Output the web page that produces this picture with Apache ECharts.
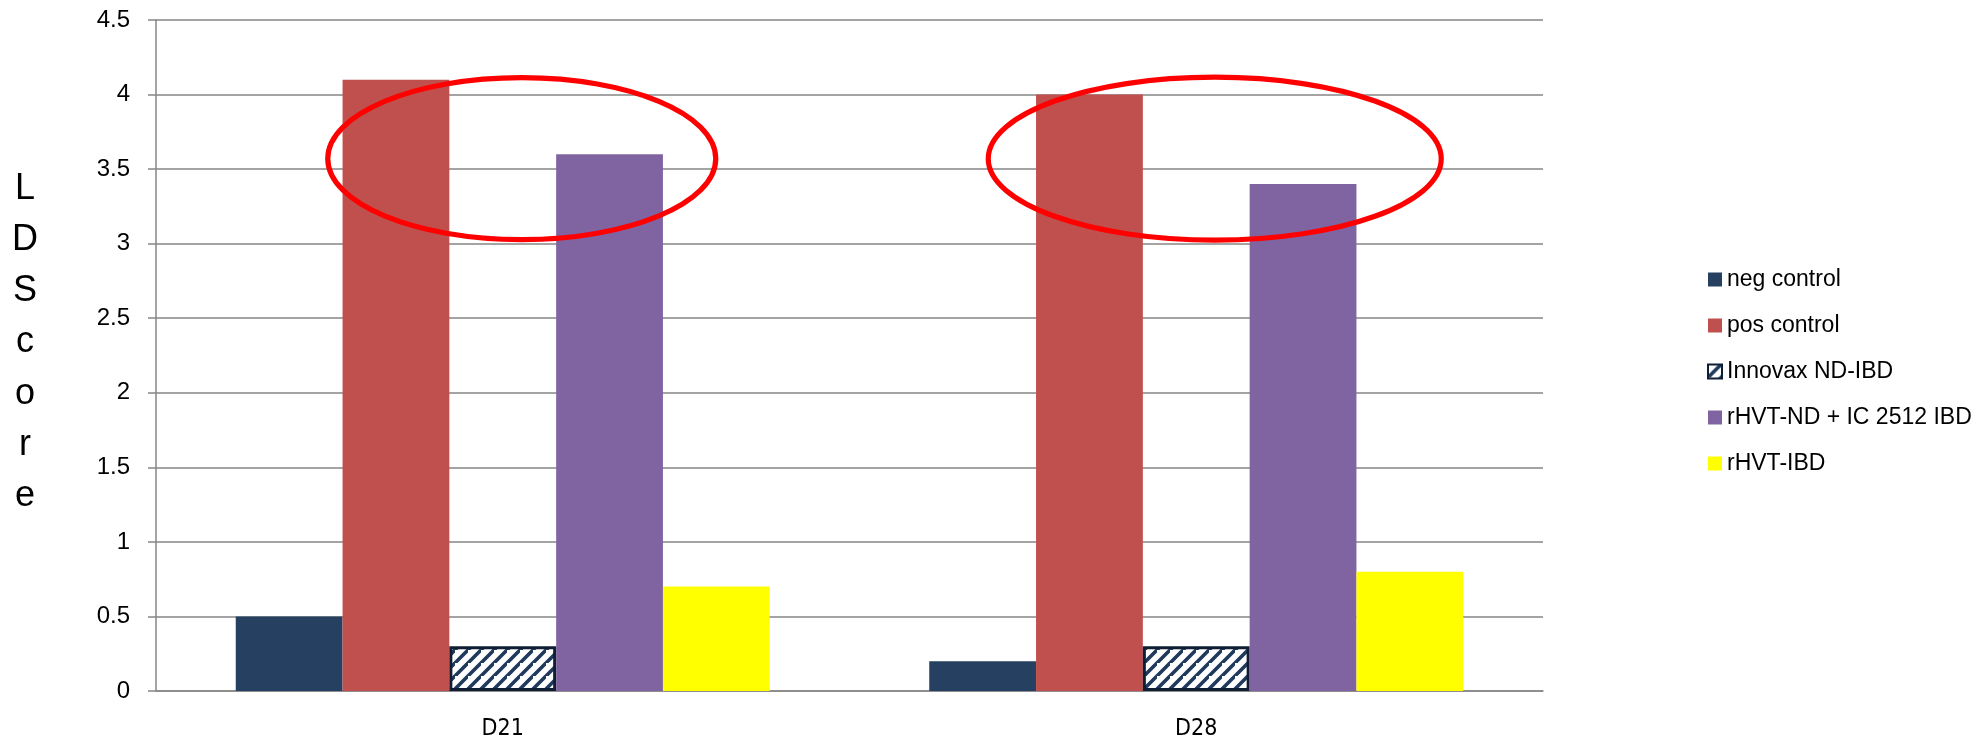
<!DOCTYPE html>
<html><head><meta charset="utf-8">
<script src="https://cdn.jsdelivr.net/npm/echarts@6/dist/echarts.min.js"></script>
<style>html,body{margin:0;padding:0;background:#fff}#c{width:1980px;height:738px}</style>
</head><body><div id="c"></div>
<script>
const categories = ['D21', 'D28'];
const seriesNames = ['neg control', 'pos control', 'Innovax ND-IBD', 'rHVT-ND + IC 2512 IBD', 'rHVT-IBD'];
const negControl = [0.5, 0.2];
const posControl = [4.1, 4.0];
const innovax = [0.3, 0.3];
const rhvtNdIc = [3.6, 3.4];
const rhvtIbd = [0.7, 0.8];
const yAxisTitle = 'LDScore';

// stripe pattern for the hatched series
const P = 13;
const pc = document.createElement('canvas');
pc.width = P; pc.height = P;
const g = pc.getContext('2d');
g.fillStyle = '#ffffff'; g.fillRect(0, 0, P, P);
g.strokeStyle = '#1F3A5C'; g.lineWidth = 3.6;
g.beginPath();
g.moveTo(-3, P + 3); g.lineTo(P + 3, -3);
g.moveTo(-P - 3, 3); g.lineTo(3, -P - 3);
g.moveTo(-3, 2 * P + 3); g.lineTo(2 * P + 3, -3);
g.stroke();

const chart = echarts.init(document.getElementById('c'), null, {renderer: 'canvas'});
const gridColor = '#868686';
const font = '"Liberation Sans", Arial, sans-serif';

function bar(name, data, itemStyle) {
  return {
    name: name, type: 'bar', data: data,
    barGap: '0%', barCategoryGap: '23%',
    itemStyle: itemStyle,
    emphasis: {disabled: true},
    animation: false
  };
}

chart.setOption({
  animation: false,
  grid: {left: 156, right: 437, top: 20, bottom: 47, containLabel: false, outerBoundsMode: 'none'},
  legend: {
    orient: 'vertical', left: 1707, top: 268, padding: 0,
    itemWidth: 14, itemHeight: 14, itemGap: 23, icon: 'rect',
    selectedMode: false,
    textStyle: {fontFamily: font, fontSize: 23, lineHeight: 23, color: '#000'},
    data: seriesNames
  },
  xAxis: {
    type: 'category', data: categories,
    axisLine: {lineStyle: {color: gridColor, width: 1.5}},
    axisTick: {length: 8, lineStyle: {color: gridColor, width: 1.5}},
    axisLabel: {margin: 27, fontFamily: '"DejaVu Sans Condensed", "Liberation Sans Narrow", sans-serif', fontSize: 23, color: '#000'}
  },
  yAxis: {
    type: 'value', min: 0, max: 4.5, interval: 0.5,
    axisLine: {show: true, lineStyle: {color: gridColor, width: 1.5}},
    axisTick: {show: true, length: 8, lineStyle: {color: gridColor, width: 1.5}},
    axisLabel: {margin: 26, fontFamily: font, fontSize: 24, color: '#000'},
    splitLine: {lineStyle: {color: gridColor, width: 1.5}}
  },
  series: [
    bar(seriesNames[0], negControl, {color: '#254061'}),
    bar(seriesNames[1], posControl, {color: '#C0504D'}),
    bar(seriesNames[2], innovax, {color: {image: pc, repeat: 'repeat'}, borderColor: '#0F1E33', borderWidth: 3}),
    bar(seriesNames[3], rhvtNdIc, {color: '#8064A2'}),
    bar(seriesNames[4], rhvtIbd, {color: '#FFFF00'})
  ]
});

// annotations: red ellipses anchored in data space + stacked axis title
const a1 = chart.convertToPixel({gridIndex: 0}, [0, 3.57]);
const a2 = chart.convertToPixel({gridIndex: 0}, [1, 3.57]);
chart.setOption({
  graphic: [
    {type: 'ellipse', shape: {cx: a1[0] + 19, cy: a1[1], rx: 194, ry: 81},
     style: {fill: 'none', stroke: '#FF0000', lineWidth: 5.2}, z: 100, silent: true},
    {type: 'ellipse', shape: {cx: a2[0] + 18.5, cy: a2[1], rx: 226.5, ry: 81.5},
     style: {fill: 'none', stroke: '#FF0000', lineWidth: 5.2}, z: 100, silent: true},
    {type: 'text', x: 25, y: 163, silent: true,
     style: {text: yAxisTitle.split('').join('\n'), font: '36px "Liberation Sans", Arial, sans-serif',
             lineHeight: 51.3, align: 'center', verticalAlign: 'top', fill: '#000'}}
  ]
});
</script>
</body></html>
